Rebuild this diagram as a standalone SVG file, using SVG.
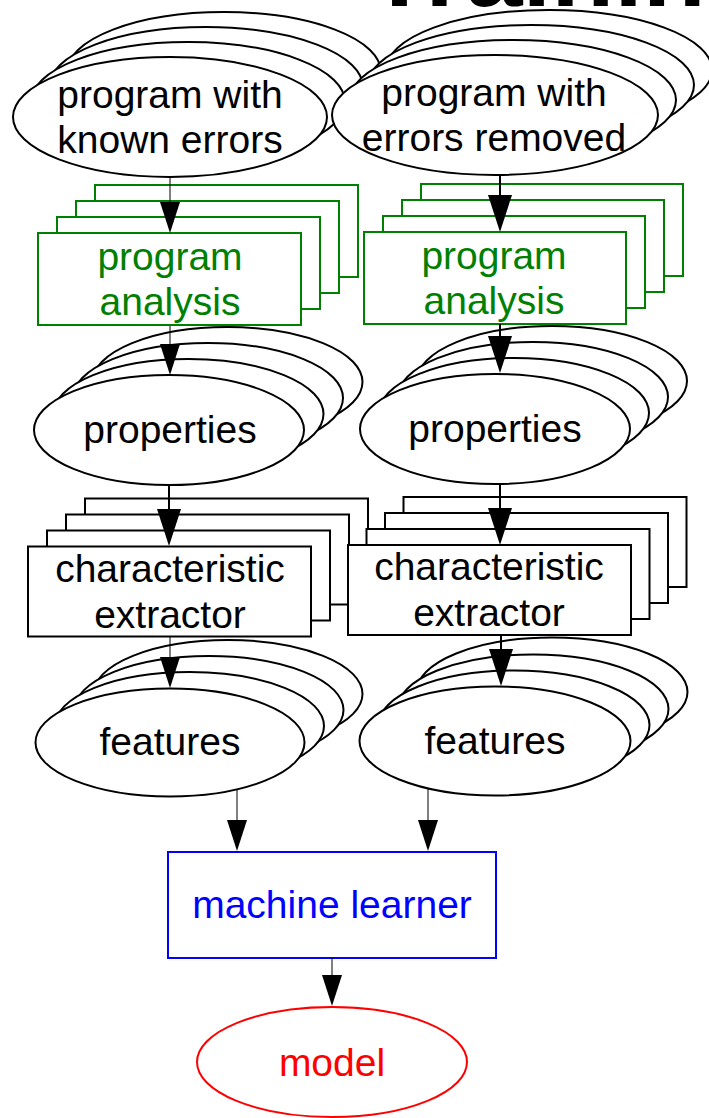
<svg xmlns="http://www.w3.org/2000/svg" width="709" height="1118" viewBox="0 0 709 1118">
<style>
.blk{fill:#fff;stroke:#000;stroke-width:2}
.grn{fill:#fff;stroke:#008000;stroke-width:2}
.blu{fill:#fff;stroke:#0000ff;stroke-width:2}
.red{fill:#fff;stroke:#ff0000;stroke-width:2}
.lbl{font-family:"Liberation Sans",Arial,sans-serif;font-size:39px;text-anchor:middle;fill:#000}
.g{fill:#008000}.b{fill:#0000ff}.r{fill:#ff0000}
.thin{stroke:#000;stroke-width:1;fill:none}
.thick{stroke:#000;stroke-width:2;fill:none}
.title{font-family:"Liberation Sans",Arial,sans-serif;font-weight:bold;font-size:103px;fill:#000}
</style>
<defs>
<marker id="ahS" markerUnits="userSpaceOnUse" markerWidth="31" markerHeight="20" viewBox="0 0 31 20" refX="25" refY="10" orient="auto"><path d="M0,0 L31,10 L0,20 z" fill="#000"/></marker>
<marker id="ahL" markerUnits="userSpaceOnUse" markerWidth="37" markerHeight="24" viewBox="0 0 37 24" refX="31" refY="12" orient="auto"><path d="M0,0 L37,12 L0,24 z" fill="#000"/></marker>
</defs>
<rect width="709" height="1118" fill="#fff"/>
<g id="title"><text class="title" x="368" y="6">Training</text></g>

<g id="program-known-errors">
<ellipse class="blk" cx="224" cy="72" rx="157" ry="60"/>
<ellipse class="blk" cx="206" cy="87" rx="157" ry="60"/>
<ellipse class="blk" cx="188" cy="102" rx="157" ry="60"/>
<ellipse class="blk" cx="170" cy="117" rx="157" ry="60"/>
<text class="lbl" x="170" y="108">program with</text>
<text class="lbl" x="170" y="153">known errors</text>
</g>
<g id="program-errors-removed">
<ellipse class="blk" cx="549" cy="70" rx="163" ry="60"/>
<ellipse class="blk" cx="531" cy="85" rx="163" ry="60"/>
<ellipse class="blk" cx="513" cy="100" rx="163" ry="60"/>
<ellipse class="blk" cx="495" cy="115" rx="163" ry="60"/>
<text class="lbl" x="494" y="106">program with</text>
<text class="lbl" x="494" y="151">errors removed</text>
</g>

<g id="analysis-left">
<rect class="grn" x="95" y="185" width="263" height="92"/>
<rect class="grn" x="76" y="201" width="263" height="92"/>
<rect class="grn" x="57" y="217" width="263" height="92"/>
<rect class="grn" x="38" y="233" width="263" height="92"/>
<text class="lbl g" x="170" y="270">program</text>
<text class="lbl g" x="170" y="315">analysis</text>
</g>
<g id="analysis-right">
<rect class="grn" x="421" y="184" width="262" height="92"/>
<rect class="grn" x="402" y="200" width="262" height="92"/>
<rect class="grn" x="383" y="216" width="262" height="92"/>
<rect class="grn" x="364" y="232" width="262" height="92"/>
<text class="lbl g" x="494" y="269">program</text>
<text class="lbl g" x="494" y="314">analysis</text>
</g>

<g id="properties-left">
<ellipse class="blk" cx="227.5" cy="382" rx="135" ry="55"/>
<ellipse class="blk" cx="208" cy="398" rx="135" ry="55"/>
<ellipse class="blk" cx="188.5" cy="414" rx="135" ry="55"/>
<ellipse class="blk" cx="169" cy="430" rx="135" ry="55"/>
<text class="lbl" x="170" y="443">properties</text>
</g>
<g id="properties-right">
<ellipse class="blk" cx="552" cy="381" rx="135" ry="55"/>
<ellipse class="blk" cx="533" cy="397" rx="135" ry="55"/>
<ellipse class="blk" cx="514" cy="413" rx="135" ry="55"/>
<ellipse class="blk" cx="495" cy="429" rx="135" ry="55"/>
<text class="lbl" x="495" y="442">properties</text>
</g>

<g id="extractor-left">
<rect class="blk" x="85" y="498.5" width="283" height="90"/>
<rect class="blk" x="66" y="514.5" width="283" height="90"/>
<rect class="blk" x="47" y="530.5" width="283" height="90"/>
<rect class="blk" x="28" y="546.5" width="283" height="90"/>
<text class="lbl" x="170" y="582">characteristic</text>
<text class="lbl" x="170" y="628">extractor</text>
</g>
<g id="extractor-right">
<rect class="blk" x="403.5" y="497" width="283" height="90"/>
<rect class="blk" x="385" y="513" width="283" height="90"/>
<rect class="blk" x="366.5" y="529" width="283" height="90"/>
<rect class="blk" x="348" y="545" width="283" height="90"/>
<text class="lbl" x="489" y="580">characteristic</text>
<text class="lbl" x="489" y="626">extractor</text>
</g>

<g id="features-left">
<ellipse class="blk" cx="228" cy="694" rx="134.5" ry="54"/>
<ellipse class="blk" cx="209" cy="710" rx="134.5" ry="54"/>
<ellipse class="blk" cx="189.5" cy="726" rx="134.5" ry="54"/>
<ellipse class="blk" cx="170" cy="742.5" rx="134.5" ry="54"/>
<text class="lbl" x="170" y="755">features</text>
</g>
<g id="features-right">
<ellipse class="blk" cx="552" cy="692" rx="135.5" ry="54.5"/>
<ellipse class="blk" cx="533" cy="709" rx="135.5" ry="54.5"/>
<ellipse class="blk" cx="514" cy="725" rx="135.5" ry="54.5"/>
<ellipse class="blk" cx="495" cy="741" rx="135.5" ry="54.5"/>
<text class="lbl" x="495" y="754">features</text>
</g>

<g id="machine-learner">
<rect class="blu" x="168" y="852" width="328" height="106"/>
<text class="lbl b" x="332" y="918">machine learner</text>
</g>
<g id="model">
<ellipse class="red" cx="332" cy="1062" rx="135" ry="55"/>
<text class="lbl r" x="332" y="1076">model</text>
</g>

<g id="connectors">
<line class="thin" x1="170" y1="177" x2="170" y2="227" marker-end="url(#ahS)"/>
<line class="thin" x1="170" y1="326" x2="170" y2="369" marker-end="url(#ahS)"/>
<line class="thick" x1="169" y1="486" x2="169" y2="540" marker-end="url(#ahL)"/>
<line class="thin" x1="170" y1="637" x2="170" y2="682" marker-end="url(#ahS)"/>
<line class="thick" x1="500" y1="175" x2="500" y2="226" marker-end="url(#ahL)"/>
<line class="thick" x1="500" y1="324" x2="500" y2="367" marker-end="url(#ahL)"/>
<line class="thick" x1="500" y1="484" x2="500" y2="539" marker-end="url(#ahL)"/>
<line class="thick" x1="501" y1="635" x2="501" y2="680" marker-end="url(#ahL)"/>
<line class="thin" x1="237" y1="789" x2="237" y2="845" marker-end="url(#ahS)"/>
<line class="thin" x1="428" y1="788" x2="428" y2="845" marker-end="url(#ahS)"/>
<line class="thin" x1="332" y1="958" x2="332" y2="1000" marker-end="url(#ahS)"/>
</g>
</svg>
